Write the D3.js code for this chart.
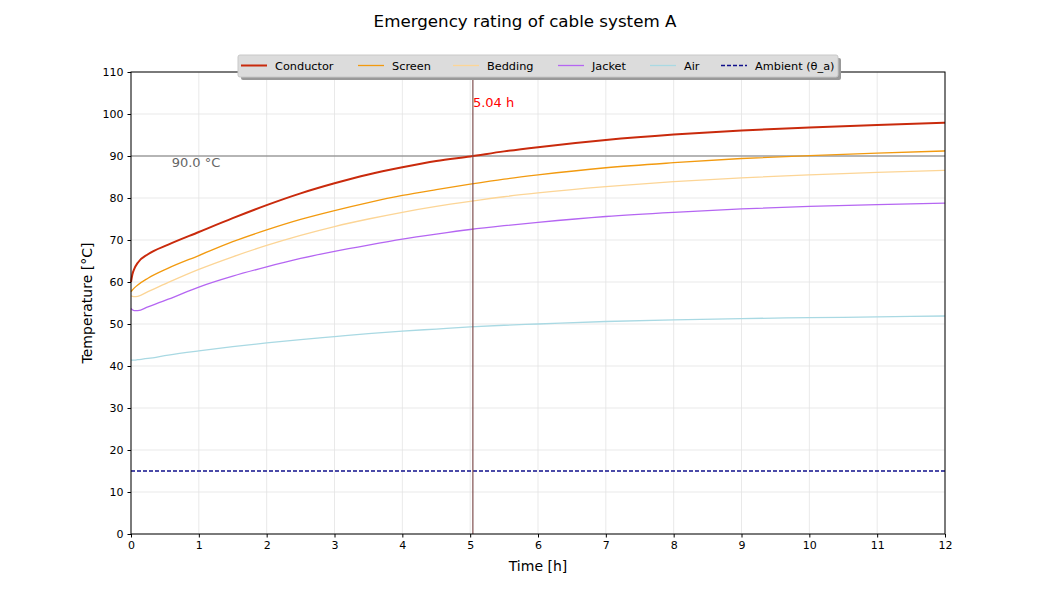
<!DOCTYPE html>
<html>
<head>
<meta charset="utf-8">
<script src="https://cdn.jsdelivr.net/npm/d3@7"></script>
<style>
  body { margin: 0; background: #fff; }
  text { font-family: "DejaVu Sans", sans-serif; }
</style>
</head>
<body>
<script>
// Time axis (hours) and temperatures
var hours = [0, 0.02, 0.05, 0.1, 0.25, 0.55, 1, 1.5, 2, 2.5, 3, 3.5, 4, 4.5, 5, 5.5, 6, 7, 8, 9, 10, 11, 12];
var conductor = [60.0, 61.8, 63.2, 64.6, 66.6, 68.9, 71.9, 75.2, 78.3, 81.1, 83.5, 85.6, 87.3, 88.8, 89.9, 91.1, 92.1, 93.8, 95.1, 96.1, 96.8, 97.4, 97.9];
var screen = [57.7, 58.1, 58.6, 59.3, 60.9, 63.3, 66.3, 69.6, 72.4, 74.9, 77.0, 78.9, 80.6, 82.0, 83.3, 84.5, 85.5, 87.2, 88.4, 89.4, 90.1, 90.7, 91.2];
var bedding = [56.7, 56.6, 56.5, 56.6, 57.7, 59.9, 63.0, 66.0, 68.7, 71.1, 73.2, 75.0, 76.6, 78.0, 79.2, 80.3, 81.2, 82.7, 83.9, 84.8, 85.5, 86.1, 86.6];
var jacket = [53.7, 53.4, 53.2, 53.2, 54.1, 55.9, 58.8, 61.4, 63.6, 65.6, 67.3, 68.8, 70.2, 71.4, 72.5, 73.4, 74.2, 75.6, 76.6, 77.4, 78.0, 78.4, 78.8];
var air = [41.4, 41.4, 41.4, 41.5, 41.8, 42.6, 43.6, 44.6, 45.5, 46.3, 47.0, 47.7, 48.3, 48.8, 49.3, 49.7, 50.0, 50.6, 51.0, 51.3, 51.5, 51.7, 51.9];
var ambient = 15;
var limitTemp = 90.0;
var limitTime = 5.04;

var seriesNames = ["Conductor", "Screen", "Bedding", "Jacket", "Air"];
var seriesValues = [conductor, screen, bedding, jacket, air];
var seriesColors = ["#c92a0c", "#f29a0f", "#fcd596", "#b566f2", "#a9d9e3"];
var seriesWidths = [2, 1.3, 1.3, 1.3, 1.3];
var ambientColor = "#10108c";

var xTicks = d3.range(0, 13, 1);
var yTicks = d3.range(0, 111, 10);

// Layout
var W = 1050, H = 600;
var m = { left: 131, right: 105, top: 72, bottom: 66 };
var pw = W - m.left - m.right, ph = H - m.top - m.bottom;

var svg = d3.select("body").append("svg")
    .attr("width", W)
    .attr("height", H);

var x = d3.scaleLinear().domain([0, 12]).range([m.left, m.left + pw]);
var y = d3.scaleLinear().domain([0, 110]).range([m.top + ph, m.top]);

// Grid
var grid = svg.append("g");
grid.selectAll(".gx").data(xTicks).enter().append("line")
    .attr("x1", function(d) { return x(d); }).attr("x2", function(d) { return x(d); })
    .attr("y1", m.top).attr("y2", m.top + ph)
    .attr("stroke", "#e3e3e3").attr("stroke-width", 0.8);
grid.selectAll(".gy").data(yTicks).enter().append("line")
    .attr("y1", function(d) { return y(d); }).attr("y2", function(d) { return y(d); })
    .attr("x1", m.left).attr("x2", m.left + pw)
    .attr("stroke", "#e3e3e3").attr("stroke-width", 0.8);

// Limit line (temperature)
svg.append("line")
    .attr("x1", m.left).attr("x2", m.left + pw)
    .attr("y1", y(limitTemp)).attr("y2", y(limitTemp))
    .attr("stroke", "#777").attr("stroke-width", 1);

// Series
var line = d3.line()
    .x(function(d) { return x(d[0]); })
    .y(function(d) { return y(d[1]); })
    .curve(d3.curveMonotoneX);

svg.append("line")
    .attr("x1", m.left).attr("x2", m.left + pw)
    .attr("y1", y(ambient)).attr("y2", y(ambient))
    .attr("stroke", ambientColor).attr("stroke-width", 1.3)
    .attr("stroke-dasharray", "4,2");

for (var s = seriesNames.length - 1; s >= 0; s--) {
  var pts = hours.map(function(h, i) { return [h, seriesValues[s][i]]; });
  svg.append("path")
      .datum(pts)
      .attr("d", line)
      .attr("fill", "none")
      .attr("stroke", seriesColors[s])
      .attr("stroke-width", seriesWidths[s]);
}

// vertical time marker
svg.append("line")
    .attr("x1", x(limitTime)).attr("x2", x(limitTime))
    .attr("y1", m.top).attr("y2", m.top + ph)
    .attr("stroke", "#555").attr("stroke-width", 1);
svg.append("line")
    .attr("x1", x(limitTime)).attr("x2", x(limitTime))
    .attr("y1", m.top).attr("y2", m.top + ph)
    .attr("stroke", "#d33").attr("stroke-width", 0.35);

svg.append("text")
    .attr("x", x(limitTime)).attr("y", y(limitTemp + 11.6))
    .attr("font-size", 13).attr("fill", "red")
    .text(limitTime.toFixed(2) + " h");
svg.append("text")
    .attr("x", x(0.6)).attr("y", y(limitTemp - 2.7))
    .attr("font-size", 13).attr("fill", "#666")
    .text(limitTemp.toFixed(1) + " °C");

// Axes
var xAxis = svg.append("g")
    .attr("transform", "translate(0," + (m.top + ph) + ")")
    .call(d3.axisBottom(x).tickValues(xTicks).tickSize(3.5).tickPadding(4));
var yAxis = svg.append("g")
    .attr("transform", "translate(" + m.left + ",0)")
    .call(d3.axisLeft(y).tickValues(yTicks).tickSize(3.5).tickPadding(4));
[xAxis, yAxis].forEach(function(a) {
  a.select(".domain").remove();
  a.selectAll("text").attr("font-size", 11).attr("fill", "#000")
      .attr("font-family", "DejaVu Sans, sans-serif");
  a.selectAll("line").attr("stroke", "#000");
});

// Frame
svg.append("rect")
    .attr("x", m.left).attr("y", m.top)
    .attr("width", pw).attr("height", ph)
    .attr("fill", "none").attr("stroke", "#000").attr("stroke-width", 1);

// Labels
svg.append("text")
    .attr("x", m.left + pw / 2).attr("y", 571)
    .attr("text-anchor", "middle").attr("font-size", 14)
    .text("Time [h]");
svg.append("text")
    .attr("transform", "translate(92," + (m.top + ph / 2) + ") rotate(-90)")
    .attr("text-anchor", "middle").attr("font-size", 14)
    .text("Temperature [°C]");
svg.append("text")
    .attr("x", 525).attr("y", 27)
    .attr("text-anchor", "middle").attr("font-size", 16.7)
    .text("Emergency rating of cable system A");

// Legend
var legNames = seriesNames.concat(["Ambient (θ_a)"]);
var legColors = seriesColors.concat([ambientColor]);
var legX = [241, 358, 453, 558, 650, 721];
var lg = svg.append("g");
lg.append("rect")
    .attr("x", 241).attr("y", 58).attr("width", 600).attr("height", 22)
    .attr("rx", 2).attr("fill", "#999");
lg.append("rect")
    .attr("x", 238).attr("y", 55).attr("width", 600).attr("height", 22)
    .attr("rx", 2).attr("fill", "#dcdcdc").attr("stroke", "#c8c8c8");
legNames.forEach(function(n, i) {
  lg.append("line")
      .attr("x1", legX[i]).attr("x2", legX[i] + 26)
      .attr("y1", 65.5).attr("y2", 65.5)
      .attr("stroke", legColors[i])
      .attr("stroke-width", i === 0 ? 2 : 1.3)
      .attr("stroke-dasharray", i === 5 ? "4,2" : null);
  lg.append("text")
      .attr("x", legX[i] + 34).attr("y", 69.5)
      .attr("font-size", 11.3)
      .text(n);
});
</script>
</body>
</html>
